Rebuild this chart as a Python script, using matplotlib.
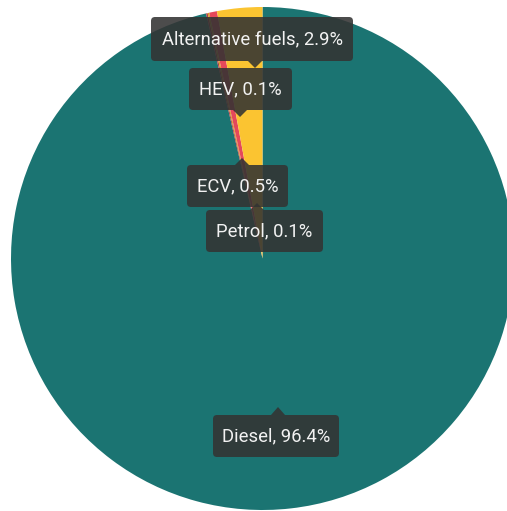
import matplotlib.pyplot as plt
from matplotlib.patches import FancyBboxPatch, Polygon

# Data
fuels = ["Diesel", "HEV", "Petrol", "ECV", "Alternative fuels"]
shares = [96.4, 0.1, 0.1, 0.5, 2.9]
colors = ["#1b7472", "#b03a48", "#d9a21f", "#e5485a", "#fbc431"]

# tooltip boxes in pixel coords: (left, top, right, bottom), arrow tip (x, y), arrow direction
boxes = {
    "Alternative fuels": ((151, 17, 353, 61), (255, 68), "down"),
    "HEV": ((189, 68, 292, 110), (240, 117), "down"),
    "ECV": ((187, 165, 288, 207), (242, 158), "up"),
    "Petrol": ((206, 210, 323, 252), (257, 203), "up"),
    "Diesel": ((213, 415, 339, 457), (278, 407), "up"),
}

W, H = 507, 511
fig = plt.figure(figsize=(W / 100, H / 100), dpi=100)
ax = fig.add_axes([0, 0, 1, 1])

# pie, clockwise from 12 o'clock
ax.pie(shares, colors=colors, startangle=90, counterclock=False,
       center=(262.5, H - 258.5), radius=251.5,
       wedgeprops=dict(linewidth=0), frame=True)
ax.set_xlim(0, W)
ax.set_ylim(0, H)
ax.set_aspect("equal")
ax.axis("off")

box_color = "#333333"
for name, share in zip(fuels, shares):
    (l, t, r, b), (tx, ty), direction = boxes[name]
    patch = FancyBboxPatch((l, H - b), r - l, b - t,
                           boxstyle="round,pad=0,rounding_size=4",
                           facecolor=box_color, edgecolor="none", alpha=0.88, zorder=5)
    ax.add_patch(patch)
    if direction == "down":
        base = H - b
    else:
        base = H - t
    tri = Polygon([(tx - 7, base), (tx + 7, base), (tx, H - ty)], closed=True,
                  facecolor=box_color, edgecolor="none", alpha=0.88, zorder=5)
    ax.add_patch(tri)
    ax.text((l + r) / 2, H - (t + b) / 2, f"{name}, {share}%",
            ha="center", va="center", color="#f2f2f2", fontsize=13.3,
            family=["Roboto", "DejaVu Sans"], zorder=6)

fig.savefig("out.png", dpi=100)
